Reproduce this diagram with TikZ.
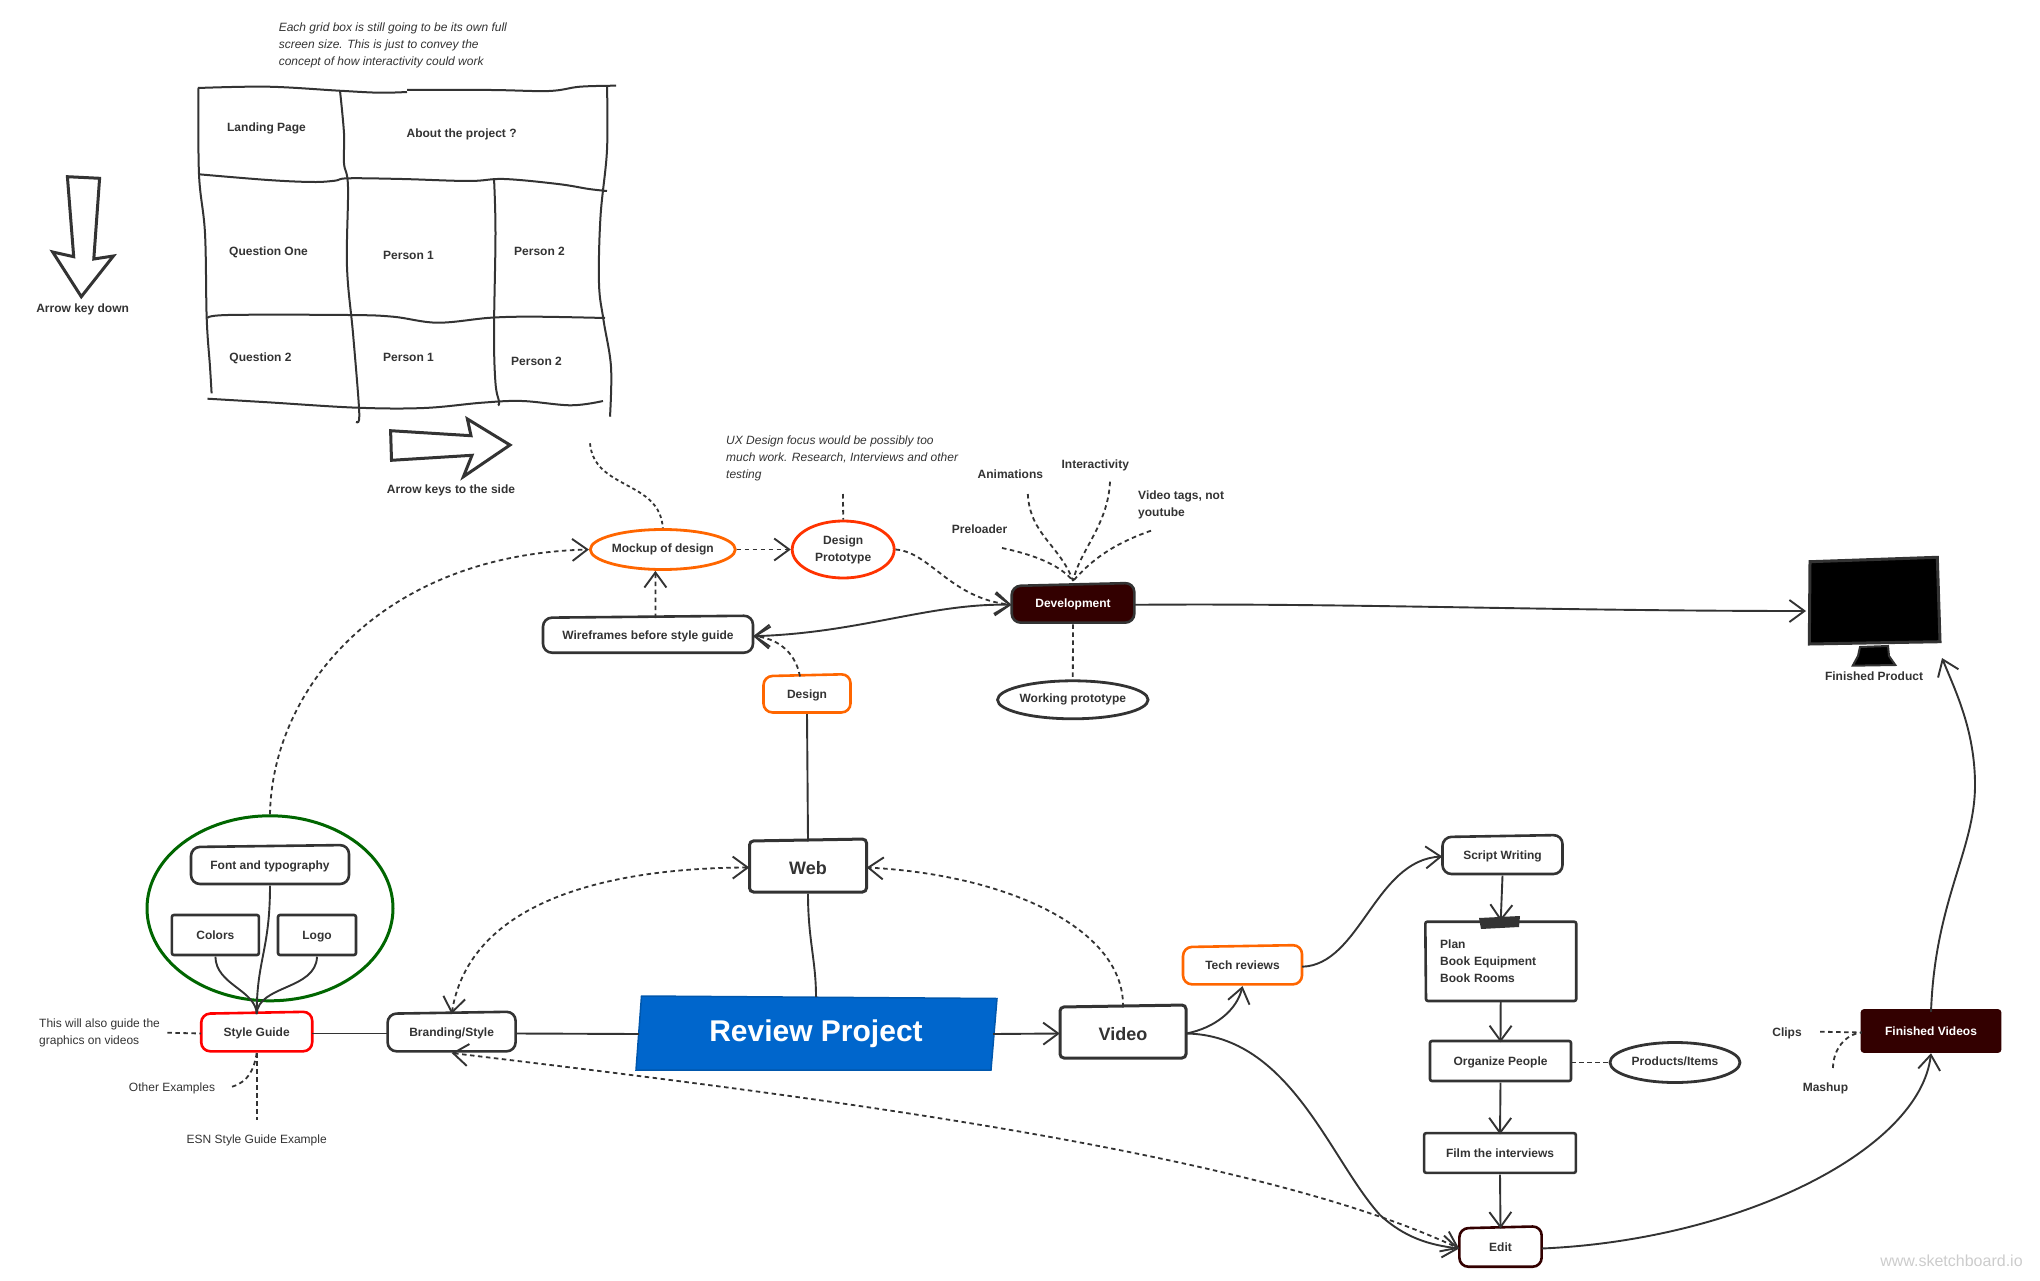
\documentclass[tikz,border=0pt]{standalone}
\usepackage{fontspec}
\setmainfont{Liberation Sans}
\usetikzlibrary{arrows.meta,shapes.geometric}
\definecolor{ink}{HTML}{333333}
\definecolor{oran}{HTML}{FF6600}
\definecolor{rorg}{HTML}{FF3300}
\definecolor{maroon}{HTML}{330000}
\definecolor{gren}{HTML}{006600}
\definecolor{rblue}{HTML}{0066CC}
\newcommand\skb[9]{%
 \path[rbx,#1] ({#3-#5/2},{#4-#6/2+#7}) -- ({#3+#5/2},{#4-#6/2+#8}) -- ({#3+#5/2},{#4+#6/2}) -- ({#3-#5/2},{#4+#6/2}) -- cycle;
 \node[lbl,minimum width=#5pt,minimum height=#6pt] (#2) at (#3,#4) {#9};}
\tikzset{
 lbl/.style={font=\fontsize{12}{17}\selectfont\bfseries,text=ink,align=center,inner sep=0pt,text height=8.5pt,text depth=2.5pt,yshift=-1.5pt},
 multi/.style={text height=,text depth=},
 note/.style={font=\fontsize{12}{17}\selectfont,text=ink,align=left,inner sep=0pt,yshift=-1.2pt},
 inote/.style={font=\fontsize{12}{17}\selectfont\itshape,text=ink,align=left,inner sep=0pt,yshift=-1.2pt},
 rbx/.style={draw=ink,line width=2.6pt,rounded corners=9pt},
 sqb/.style={rounded corners=2pt},
 ell/.style={lbl,ellipse,draw=ink,line width=2.8pt},
 wire/.style={draw=ink,line width=1.9pt},
 dsh/.style={draw=ink,line width=1.8pt,dash pattern=on 4.5pt off 3.5pt},
 tip/.style={-{Straight Barb[length=15pt,width=22pt,line width=1.9pt]}},
 bitip/.style={{Straight Barb[length=15pt,width=22pt,line width=1.9pt]}-{Straight Barb[length=15pt,width=22pt,line width=1.9pt]}},
 grd/.style={draw=ink,line width=2pt},
 bigarrow/.style={draw=ink,line width=3pt,line join=miter},
}
\begin{document}
\begin{tikzpicture}[x=1pt,y=-1pt]
\useasboundingbox (0,0) rectangle (2040,1281);
% ---------- grid sketch
\draw[grd] plot[smooth,tension=.6] coordinates {(198,88)(268,86.7)(339,90.7)(379,92.7)(407,92)};
\draw[grd] plot[smooth,tension=.6] coordinates {(407,90)(491,90)(549,91)(580,86.7)(616,85.7)};
\draw[grd] plot[smooth,tension=.6] coordinates {(199,174.3)(268,180)(312.5,182)(335,180.7)(348,178.3)(402,179)(469,181)(504,179)(558,184)(589,189)(607,191)};
\draw[grd] plot[smooth,tension=.6] coordinates {(207.5,318.3)(228,315)(348,315)(393,316.7)(437.5,322.7)(491,317.7)(536,316.7)(605,318)};
\draw[grd] plot[smooth,tension=.6] coordinates {(207.5,398.7)(268,402.3)(357,407.7)(424,408)(482,402.7)(522,401)(571,405.3)(603,401)};
\draw[grd] plot[smooth,tension=.6] coordinates {(198.5,88)(199,174.3)(205,233.3)(206.7,318.3)(210,366.7)(211.6,393.3)};
\draw[grd] plot[smooth,tension=.6] coordinates {(340,90.7)(344,133.3)(344,163.3)(348,186.7)(347,266.7)(353,333.3)(358.5,400)(359,420)(356,422)};
\draw[grd] plot[smooth,tension=.6] coordinates {(494,178.3)(495.5,233.3)(494,333.3)(495.5,383.3)(499,401.7)(498,405.3)};
\draw[grd] plot[smooth,tension=.6] coordinates {(607,86)(607,150)(600.5,216.7)(599,283.3)(603.5,320)(611,366.7)(610,416.7)};
\node[inote,anchor=west] (n1) at (278.6,44.3) {Each grid box is still going to be its own full\\screen size. This is just to convey the\\concept of how interactivity could work};
\node[lbl] (g1) at (266.5,127) {Landing Page};
\node[lbl] (g2) at (461.6,133.3) {About the project ?};
\node[lbl] (g3) at (268.5,251) {Question One};
\node[lbl] (g4) at (408.5,255.3) {Person 1};
\node[lbl] (g5) at (539.5,251) {Person 2};
\node[lbl] (g6) at (260.5,357) {Question 2};
\node[lbl] (g7) at (408.5,357) {Person 1};
\node[lbl] (g8) at (536.5,361) {Person 2};
\draw[bigarrow] (67.4,176.7)--(99.6,178.3)--(93.8,259)--(113.4,256)--(81.3,296.7)--(52.7,252)--(73.7,256.7)--cycle;
\node[lbl] (g9) at (82.6,308) {Arrow key down};
\draw[bigarrow] (390.6,430.7)--(471,435.7)--(467.4,419)--(510,445)--(463.4,476.7)--(472,455.3)--(391.5,460.3)--cycle;
\node[lbl] (g10) at (451,489) {Arrow keys to the side};
% ---------- web branch
\node[inote,anchor=west] (n2) at (726,457.3) {UX Design focus would be possibly too\\much work. Research, Interviews and other\\testing};
\node[ell,draw=oran,minimum width=145pt,minimum height=40pt] (mock) at (662.8,548) {Mockup of design};
\node[ell,multi,draw=rorg,minimum width=102pt,minimum height=57pt] (proto) at (843.2,548) {Design\\Prototype};
\skb{fill=maroon}{dev}{1073}{603.3}{122.6}{38.7}{2}{-1}{\textcolor{white}{Development}}
\skb{}{wire}{648}{634.7}{210}{36}{1}{-1}{Wireframes before style guide}
\skb{draw=oran}{design}{807}{693.8}{87}{37.3}{1}{-1}{Design}
\node[ell,minimum width=144pt,minimum height=38pt] (work) at (1072.8,698.3) {Working prototype};
\node[lbl] (an) at (1010.4,474.3) {Animations};
\node[lbl] (in) at (1095.3,464.3) {Interactivity};
\node[lbl,multi,align=left,anchor=west] (vt) at (1138,503) {Video tags, not\\youtube};
\node[lbl] (pl) at (979.6,529) {Preloader};
\coordinate (conv) at (1073,581);
\coordinate (fan) at (1027.8,494);
\coordinate (fin) at (1110,481.7);
\coordinate (fvt) at (1151,530.7);
\coordinate (fpl) at (1002,548);
\coordinate (fgrid) at (590,443.3);
\coordinate (fux) at (843,494);
\draw[dsh] (fan) .. controls (1030,535) and (1060,545) .. (conv);
\draw[dsh] (fin) .. controls (1108,525) and (1080,550) .. (conv);
\draw[dsh] (fvt) .. controls (1110,545) and (1090,562) .. (conv);
\draw[dsh] (fpl) .. controls (1035,555) and (1060,565) .. (conv);
\draw[dsh,dash pattern=on 3.5pt off 3pt] (fgrid) .. controls (594,490) and (660,480) .. (mock.north);
\draw[dsh] (fux) -- (proto.north);
\draw[dsh,tip] (mock.east) -- (proto.west);
\draw[dsh,tip] ([xshift=7.4pt]wire.north) -- ([xshift=-7.4pt]mock.south);
\draw[dsh,tip] (proto.east) .. controls (930,552) and (950,598) .. (dev.west);
\draw[wire,bitip] (dev.west) .. controls (930,603) and (860,633) .. (wire.east);
\draw[dsh,tip] ([xshift=-7pt]design.north) .. controls (795,650) and (775,638) .. (wire.east);
\draw[dsh] (dev.south) -- (work.north);
% monitor
\draw[draw=ink,line width=3pt,fill=black] (1810,561.7)--(1937.3,557.3)--(1940,641.7)--(1809.3,644)--cycle;
\draw[draw=ink,line width=2pt,fill=black] (1860,647)--(1888,646)--(1889,656)--(1895.3,665)--(1852.7,665.7)--(1858,656)--cycle;
\node[lbl] (fp) at (1874,676) {Finished Product};
\coordinate (mon) at (1806,611);
\coordinate (monb) at (1942,658);
\draw[wire,tip] (dev.east) .. controls (1350,603) and (1550,611) .. (mon);
% ---------- centre
\skb{line width=3pt,rounded corners=4pt}{web}{808}{866}{117}{52}{1}{-1}{\raisebox{-3.5pt}{\fontsize{18}{20}\selectfont Web}}
\path[draw=rblue!85!black,line width=1.5pt,fill=rblue] (641.5,996)--(997,998.5)--(991,1070)--(636,1070)--cycle;
\node[lbl,text=white,font=\fontsize{30}{32}\selectfont\bfseries,text height=21pt,text depth=6pt,minimum width=354pt,minimum height=74pt] (review) at (816,1032.5) {Review Project};
\skb{line width=3pt,rounded corners=4pt}{video}{1123}{1032}{126}{52}{1}{-1}{\raisebox{-3.5pt}{\fontsize{18}{20}\selectfont Video}}
\draw[wire] (design.south) -- (web.north);
\draw[wire] (web.south) .. controls (808,940) and (816,960) .. (review.north);
\draw[wire,tip] (review.east) -- (video.west);
\draw[dsh,tip] (video.north) .. controls (1125,930) and (1010,875) .. (web.east);
% ---------- style guide
\node[ellipse,draw=gren,line width=3pt,minimum width=246pt,minimum height=185pt] (green) at (270,908.3) {};
\skb{}{font}{270}{865}{158}{38}{1}{-1}{Font and typography}
\skb{sqb}{colors}{215.4}{935}{87}{40}{0}{0}{Colors}
\skb{sqb}{logo}{317}{935}{78}{40}{0}{0}{Logo}
\skb{draw=red}{style}{256.7}{1032}{111}{38.6}{1}{-1}{Style Guide}
\skb{}{brand}{451.6}{1032}{128}{38.6}{1}{-1}{Branding/Style}
\node[note,anchor=west] (t1) at (39,1031.5) {This will also guide the\\graphics on videos};
\node[note] (t2) at (172,1087) {Other Examples};
\node[note] (t3) at (256.7,1139) {ESN Style Guide Example};
\coordinate (ft1) at (167.4,1032.7);
\coordinate (ft2) at (232,1086.7);
\coordinate (ft3) at (256.7,1120);
\draw[wire] (font.south) .. controls (270,950) and (256.7,960) .. (style.north);
\draw[wire] (colors.south) .. controls (216,985) and (256,990) .. (style.north);
\draw[wire] (logo.south) .. controls (316,990) and (258,985) .. (style.north);
\draw[dsh] (ft1) -- (style.west);
\draw[dsh] (ft2) .. controls (248,1082) and (254,1070) .. (style.south);
\draw[dsh] (style.south) -- (ft3);
\draw[wire] (style.east) -- (brand.west);
\draw[wire] (brand.east) -- (review.west);
\draw[dsh,tip] (green.north) .. controls (272,690) and (380,555) .. (mock.west);
\draw[dsh,bitip] (web.west) .. controls (610,868) and (470,900) .. (brand.north);
% ---------- video branch
\skb{draw=oran}{tech}{1242.5}{965.2}{119}{38.3}{1}{-1}{Tech reviews}
\skb{}{script}{1502.5}{855}{120}{38}{1}{-1}{Script Writing}
\path[rbx,sqb] (1425.3,921.7)--(1576.2,921.7)--(1576.2,1001)--(1426,1001)--cycle;
\node[lbl,multi,align=left,text width=121pt,minimum width=151pt,minimum height=79pt] (plan) at (1500.7,959.5) {Plan\\Book Equipment\\Book Rooms};
\path[fill=ink] (1479,918)--(1520,916)--(1519,927)--(1481,929)--cycle;
\skb{sqb}{org}{1500.5}{1061}{141}{40}{0}{0}{Organize People}
\node[ell,minimum width=130pt,minimum height=40pt] (prod) at (1675,1061) {Products/Items};
\skb{sqb}{film}{1500}{1153}{151.7}{39.7}{0}{0}{Film the interviews}
\skb{draw=maroon}{edit}{1500.5}{1247}{82.3}{39.4}{1}{-1}{Edit}
\skb{sqb,fill=maroon,draw=maroon}{fin}{1931}{1031}{138}{41}{0}{0}{\textcolor{white}{Finished Videos}}
\node[lbl] (clips) at (1787,1032.3) {Clips};
\node[lbl] (mash) at (1825.4,1087) {Mashup};
\coordinate (fcl) at (1820,1031.7);
\coordinate (fma) at (1833,1068);
\draw[wire,tip] (video.east) .. controls (1215,1028) and (1237,1010) .. (tech.south);
\draw[wire] (video.east) .. controls (1290,1035) and (1330,1160) .. (1380,1215);
\draw[wire,tip] (1380,1215) .. controls (1405,1238) and (1430,1245) .. (edit.west);
\draw[dsh,bitip] (brand.south) .. controls (800,1095) and (1250,1150) .. (edit.west);
\draw[wire,tip] (tech.east) .. controls (1360,965) and (1375,860) .. (script.west);
\draw[wire,tip] (script.south) -- (plan.north);
\draw[wire,tip] (plan.south) -- (org.north);
\draw[wire,tip] (org.south) -- (film.north);
\draw[wire,tip] (film.south) -- (edit.north);
\draw[dsh] (org.east) -- (prod.west);
\draw[wire,tip] (edit.east) .. controls (1740,1240) and (1920,1150) .. (fin.south);
\draw[dsh] (fcl) -- (fin.west);
\draw[dsh] (fma) .. controls (1833,1050) and (1845,1034) .. (fin.west);
\draw[wire] (fin.north) .. controls (1935,900) and (1975,850) .. (1975,785);
\draw[wire,tip] (1975,785) .. controls (1975,730) and (1955,690) .. (monb);
\node[font=\fontsize{16}{18}\selectfont,text=black!20] (wm) at (1951.5,1261) {www.sketchboard.io};
\end{tikzpicture}
\end{document}
